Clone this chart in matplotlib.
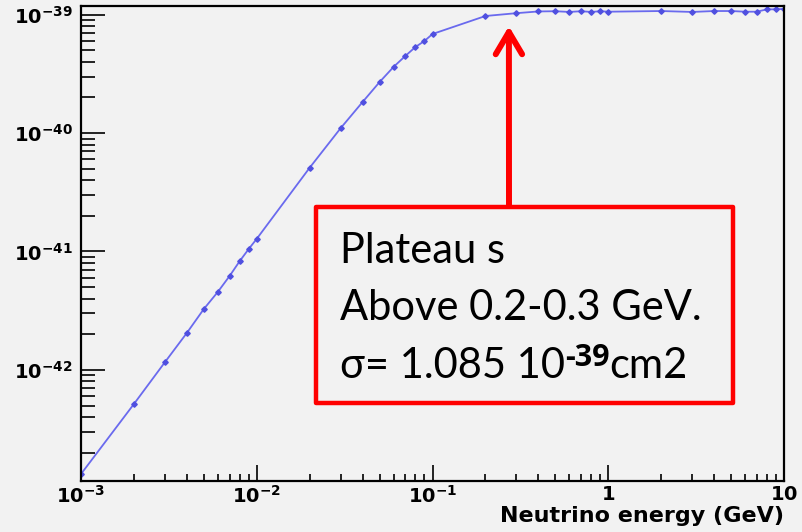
import numpy as np
import matplotlib
matplotlib.use('Agg')
from matplotlib import pyplot as plt
from matplotlib.patches import Rectangle
from matplotlib.ticker import LogLocator, FixedLocator, NullFormatter

plt.rcParams['mathtext.fontset'] = 'custom'
plt.rcParams['mathtext.rm'] = 'DejaVu Sans'
plt.rcParams['mathtext.bf'] = 'DejaVu Sans:bold'

# section efficace en fonction de l'energie du neutrino
energie = [0.001, 0.002, 0.003, 0.004, 0.005, 0.006, 0.007, 0.008, 0.009, 0.01,
           0.02, 0.03, 0.04, 0.05, 0.06, 0.07, 0.08, 0.09, 0.1,
           0.2, 0.3, 0.4, 0.5, 0.6, 0.7, 0.8, 0.9, 1.0,
           2.0, 3.0, 4.0, 5.0, 6.0, 7.0, 8.0, 9.0, 10.0]
sigma_e39 = [0.000132, 0.000515, 0.00116, 0.00205, 0.00327, 0.00455, 0.0062, 0.0083, 0.0105, 0.0128,
             0.051, 0.110, 0.183, 0.270, 0.362, 0.448, 0.534, 0.600, 0.687,
             0.975, 1.03, 1.065, 1.07, 1.055, 1.07, 1.055, 1.07, 1.06,
             1.074, 1.055, 1.074, 1.074, 1.06, 1.06, 1.11, 1.11, 1.12]
sigma = np.array(sigma_e39) * 1e-39

xticks = [1e-3, 1e-2, 1e-1, 1, 10]
xtick_labels = [r'$\mathbf{10^{-3}}$', r'$\mathbf{10^{-2}}$', r'$\mathbf{10^{-1}}$',
                r'$\mathbf{1}$', r'$\mathbf{10}$']
yticks = [1e-42, 1e-41, 1e-40, 1e-39]
ytick_labels = [r'$\mathbf{10^{-42}}$', r'$\mathbf{10^{-41}}$',
                r'$\mathbf{10^{-40}}$', r'$\mathbf{10^{-39}}$']

plateau = '1.085'
exposant = '-39'
seuil = '0.2-0.3'
fond = '#f2f2f2'

fig = plt.figure(figsize=(8.02, 5.32), dpi=100, facecolor=fond)
ax = fig.add_axes([0.101, 0.0959, 0.8766, 0.8928], facecolor=fond)

ax.plot(energie, sigma, '-', color='#6a6aee', lw=1.3,
        marker='D', ms=2.8, mfc='#5050e0', mec='#5050e0')

ax.set_xscale('log')
ax.set_yscale('log')
ax.set_xlim(1e-3, 10)
ax.set_ylim(1.153e-43, 1.184e-39)

ax.xaxis.set_major_locator(FixedLocator(xticks))
ax.set_xticklabels(xtick_labels)
ax.yaxis.set_major_locator(FixedLocator(yticks))
ax.set_yticklabels(ytick_labels)
ax.xaxis.set_minor_locator(LogLocator(base=10, subs=np.arange(2, 10), numticks=20))
ax.yaxis.set_minor_locator(LogLocator(base=10, subs=np.arange(2, 10), numticks=20))
ax.xaxis.set_minor_formatter(NullFormatter())
ax.yaxis.set_minor_formatter(NullFormatter())

ax.tick_params(axis='x', which='major', direction='in', length=11.5, width=1.2,
               labelsize=14, pad=3, top=False)
ax.tick_params(axis='x', which='minor', direction='in', length=5, width=1.2, top=False)
ax.tick_params(axis='y', which='major', direction='in', length=17, width=1.2,
               labelsize=14, pad=6, right=False)
ax.tick_params(axis='y', which='minor', direction='in', length=10, width=1.2, right=False)
for s in ax.spines.values():
    s.set_linewidth(1.6)
    s.set_color('black')

ax.set_xlabel('Neutrino energy (GeV)', loc='right', fontsize=16,
              fontweight='bold', family='DejaVu Sans', labelpad=-1)

# encadre rouge avec la valeur du plateau
boite = Rectangle((316 / 802, 1 - 403 / 532), (733 - 316) / 802, (403 - 207) / 532,
                  transform=fig.transFigure, facecolor=fond, edgecolor='#ff0000',
                  lw=3.2, joinstyle='round', zorder=5, clip_on=False)
ax.add_artist(boite)

ax.annotate('', xy=(0.272, 8.0e-40), xycoords='data',
            xytext=(509 / 802, 1 - 205 / 532), textcoords='figure fraction',
            arrowprops=dict(arrowstyle='->, head_length=16, head_width=9.5',
                            mutation_scale=1, color='#ff0000', lw=4.3,
                            capstyle='round', joinstyle='round',
                            shrinkA=0, shrinkB=0),
            zorder=6)

police = dict(fontsize=30, family=['Lato', 'DejaVu Sans'], color='black',
              zorder=7, clip_on=False)
x0 = 340 / 802
ax.text(x0, 1 - 263 / 532, 'Plateau s', va='baseline',
        transform=fig.transFigure, **police)
ax.text(x0, 1 - 320 / 532, 'Above ' + seuil + ' GeV.', va='baseline',
        transform=fig.transFigure, **police)
base3 = 1 - 378 / 532
t1 = ax.text(x0, base3, 'σ= ' + plateau + ' 10', va='baseline',
             transform=fig.transFigure, **police)
t2 = ax.annotate(exposant, xy=(1, base3 + 12 / 532), xycoords=(t1, 'figure fraction'),
                 va='baseline', ha='left', fontsize=22, fontweight='bold',
                 family='Open Sans', color='black', zorder=7, annotation_clip=False)
t3 = ax.annotate('cm2', xy=(1, base3), xycoords=(t2, 'figure fraction'),
                 va='baseline', ha='left', annotation_clip=False, **police)

plt.savefig('out.png', dpi=100, facecolor=fond)
